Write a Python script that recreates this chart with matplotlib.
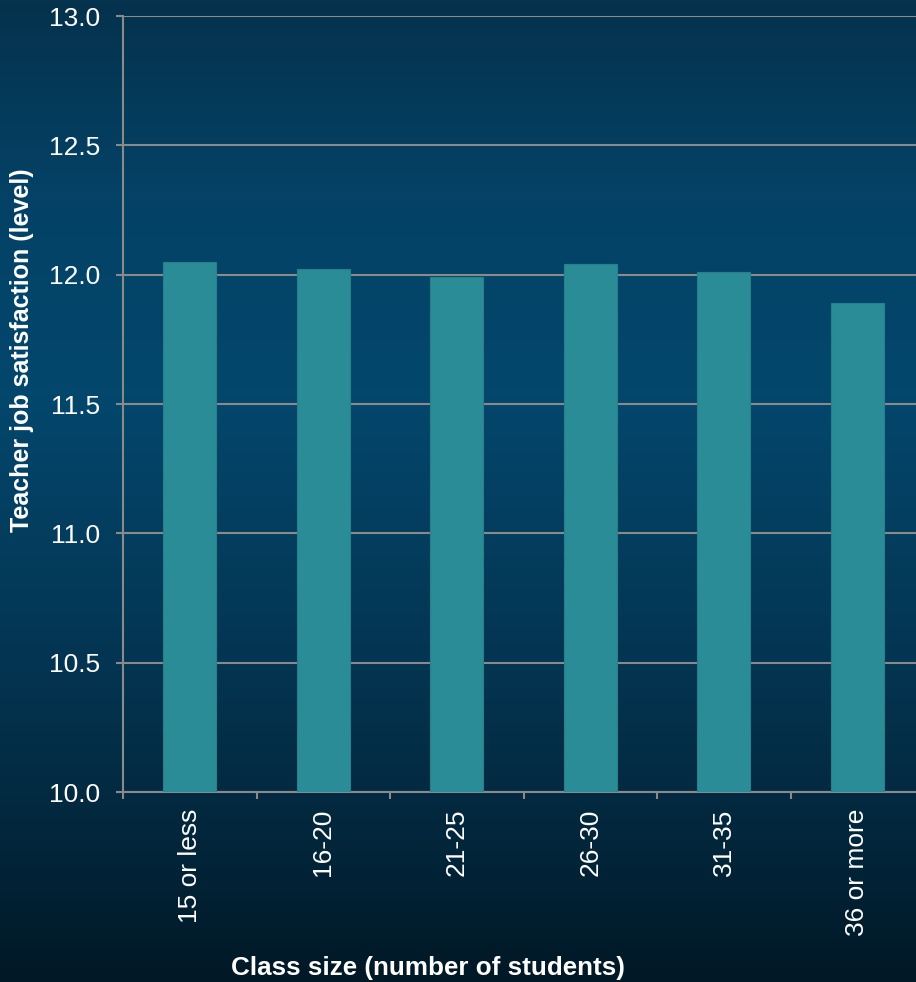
import numpy as np
import matplotlib
matplotlib.use("Agg")
import matplotlib.pyplot as plt
from matplotlib.colors import LinearSegmentedColormap

categories = ["15 or less", "16-20", "21-25", "26-30", "31-35", "36 or more"]
satisfaction = [12.05, 12.02, 11.99, 12.04, 12.01, 11.89]
y_ticks = [10.0, 10.5, 11.0, 11.5, 12.0, 12.5, 13.0]

plt.rcParams["font.family"] = ["Liberation Sans", "DejaVu Sans"]

fig = plt.figure(figsize=(9.16, 9.82), dpi=100)

# vertical background gradient
bg = fig.add_axes([0, 0, 1, 1], zorder=-10)
grad_cmap = LinearSegmentedColormap.from_list(
    "bg",
    [(0.0, "#011826"), (0.12, "#022438"), (0.3, "#04334f"),
     (0.6, "#03476d"), (0.8, "#044266"), (1.0, "#05324d")])
bg.imshow(np.linspace(0, 1, 256).reshape(-1, 1), aspect="auto",
          cmap=grad_cmap, origin="lower", extent=[0, 1, 0, 1])
bg.set_axis_off()

W, H = 916, 982
left, right, top, bottom = 123, 924, 16, 792
ax = fig.add_axes([left / W, 1 - bottom / H, (right - left) / W, (bottom - top) / H])
ax.patch.set_alpha(0)

x = np.arange(len(categories))
ax.bar(x, satisfaction, width=0.4, color="#2a8c96", edgecolor="#2a7f8c",
       linewidth=0.8, zorder=3)

ax.set_xlim(-0.5, len(categories) - 0.5)
ax.set_ylim(y_ticks[0], y_ticks[-1])
ax.set_yticks(y_ticks)
ax.set_yticklabels([f"{v:.1f}" for v in y_ticks])
ax.yaxis.grid(True, color="#8a8a8a", linewidth=1.5, zorder=1)

ax.set_xticks(x)
ax.set_xticklabels(categories, rotation=90, va="top", ha="center")
ax.set_xticks(np.arange(len(categories) + 1) - 0.5, minor=True)
ax.tick_params(axis="x", which="major", length=0, pad=12, labelsize=19,
               labelcolor="white")
ax.tick_params(axis="x", which="minor", length=5, width=1.5, color="#8a8a8a",
               direction="out")
ax.tick_params(axis="y", length=5, width=1.5, color="#8a8a8a", direction="out",
               labelsize=19, labelcolor="white", pad=11.5)

for side in ["top", "right"]:
    ax.spines[side].set_visible(False)
for side in ["left", "bottom"]:
    ax.spines[side].set_color("#8a8a8a")
    ax.spines[side].set_linewidth(1.5)

fig.text(22 / W, 1 - 350 / H, "Teacher job satisfaction (level)", rotation=90,
         ha="center", va="center", color="white", fontsize=18, fontweight="bold")
fig.text(428 / W, 1 - 968 / H, "Class size (number of students)",
         ha="center", va="center", color="white", fontsize=18.7, fontweight="bold")

fig.savefig("out.png", dpi=100)
